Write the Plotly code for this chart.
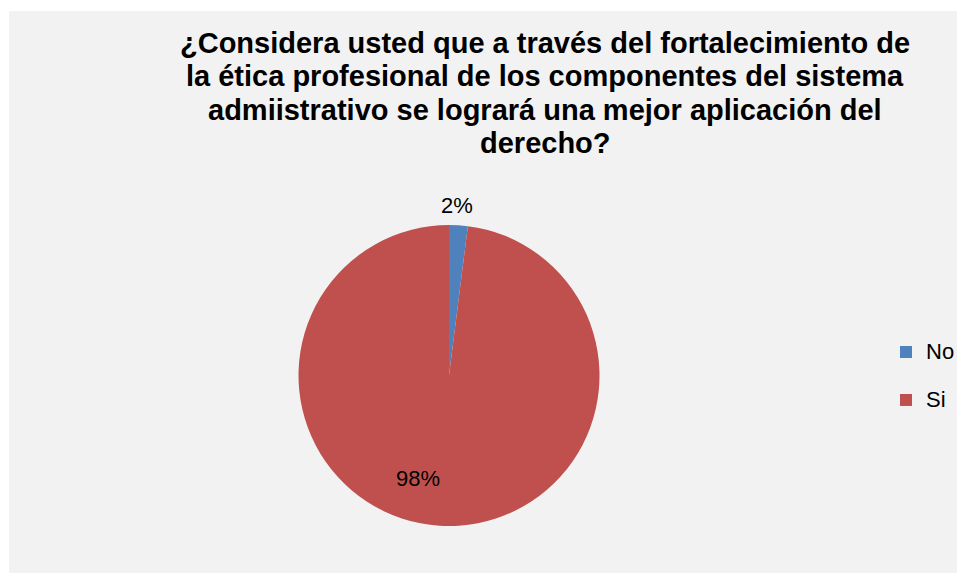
import plotly.graph_objects as go

labels = ["No", "Si"]
values = [2, 98]
colors = ["#4f81bd", "#c0504d"]
title_lines = [
    "¿Considera usted que a través del fortalecimiento de",
    "la ética profesional de los componentes del sistema",
    "admiistrativo se logrará una mejor aplicación del",
    "derecho?",
]

# page body has an 8px margin, so the figure is drawn 8px smaller
W, H = 957, 565

legend_names = [
    f"<span style='font-size:22px;baseline-shift:5.6px'>{lab}</span>" for lab in labels
]

fig = go.Figure(
    go.Pie(
        labels=legend_names,
        values=values,
        sort=False,
        direction="clockwise",
        rotation=0,
        marker=dict(colors=colors, line=dict(width=0)),
        textinfo="none",
        domain=dict(x=[290 / W, 592 / W], y=[1 - 518 / H, 1 - 217 / H]),
        hovertext=labels,
        hoverinfo="text+percent",
    )
)

# grey chart area
fig.add_shape(type="rect", xref="paper", yref="paper",
              x0=1 / W, x1=1.01, y0=-0.01, y1=1 - 3 / H,
              fillcolor="#f2f2f2", line=dict(width=0), layer="below")

# title lines
line_centers = [34.5, 68.0, 101.5, 135.0]
for txt, yc in zip(title_lines, line_centers):
    fig.add_annotation(text=txt, xref="paper", yref="paper",
                       x=537 / W, y=1 - yc / H, xanchor="center", yanchor="middle",
                       showarrow=False,
                       font=dict(family="Liberation Sans", size=29, color="black", weight="bold"))

# percentage labels
total = sum(values)
label_pos = [(449, 197), (410, 470)]
for v, (px, py) in zip(values, label_pos):
    fig.add_annotation(text=f"{v / total:.0%}", xref="paper", yref="paper",
                       x=px / W, y=1 - py / H, xanchor="center", yanchor="middle",
                       showarrow=False,
                       font=dict(family="Liberation Sans", size=22, color="black"))

fig.update_layout(
    width=W, height=H,
    margin=dict(l=0, r=0, t=0, b=0),
    paper_bgcolor="white",
    plot_bgcolor="white",
    showlegend=True,
    legend=dict(x=878 / W, y=1 - 368 / H, xanchor="left", yanchor="middle",
                font=dict(family="Liberation Sans", size=34.6, color="black"),
                bgcolor="rgba(0,0,0,0)"),
)

fig.write_html("out.html")
